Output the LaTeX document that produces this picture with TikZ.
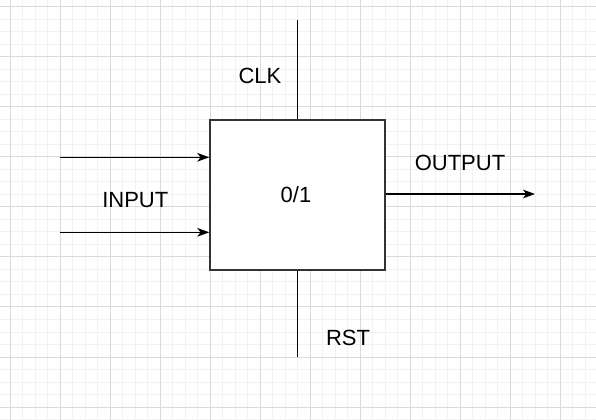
\documentclass[tikz,border=0pt]{standalone}
\usepackage{fontspec}
\setmainfont{Liberation Sans}
\usepackage{xcolor}
\definecolor{gridMajor}{RGB}{218,218,218}
\definecolor{gridMinor}{RGB}{242,242,242}
\definecolor{boxEdge}{RGB}{51,51,51}
\usetikzlibrary{arrows.meta,positioning,calc}
\begin{document}
\begin{tikzpicture}[
    x=0.75pt, y=-0.75pt,
    minorline/.style={gridMinor, line width=0.75pt},
    majorline/.style={gridMajor, line width=0.75pt},
    block/.style={rectangle, draw=boxEdge, fill=white, line width=1.1pt,
                  minimum width=131.25pt, minimum height=112.5pt,
                  inner sep=0pt},
    tag/.style={font=\fontsize{16.5}{20}\selectfont, inner sep=0pt},
    wire/.style={black, line width=1.05pt},
    sig/.style={wire, -{Stealth[length=9pt, width=6.5pt, inset=2.5pt]}}
  ]
  \useasboundingbox[fill=white] (0,0) rectangle (596,420);
  \foreach \i in {0,...,48} {
    \draw[minorline] ({-2.5+12.5*\i},0) -- ++(0,420);
  }
  \foreach \j in {0,...,34} {
    \draw[minorline] (0,{-5.5+12.5*\j}) -- ++(596,0);
  }
  \foreach \i in {0,...,11} {
    \draw[majorline] ({10+50*\i},0) -- ++(0,420);
  }
  \foreach \j in {0,...,8} {
    \draw[majorline] (0,{7+50*\j}) -- ++(596,0);
  }

  \node[block] (ff) at (297.5,195) {};
  \node[tag] (val) at (296,194.5) {0/1};

  \coordinate (clktop) at (297.5,20);
  \coordinate (rstbot) at (297.5,357);
  \coordinate (ina) at (60,157.3);
  \coordinate (inb) at (60,232.3);
  \coordinate (outend) at (535,194);

  \draw[wire] (clktop) -- (ff.north -| clktop);
  \draw[wire] (ff.south -| rstbot) -- (rstbot);
  \draw[sig] (ina) -- (ina -| ff.west);
  \draw[sig] (inb) -- (inb -| ff.west);
  \draw[sig] (outend -| ff.east) -- (outend);

  \node[tag] (clk) at (260,75.5) {CLK};
  \node[tag] (rst) at (348,337.5) {RST};
  \node[tag] (inp) at (135.3,200.5) {INPUT};
  \node[tag] (outp) at (460,163) {OUTPUT};
\end{tikzpicture}
\end{document}
